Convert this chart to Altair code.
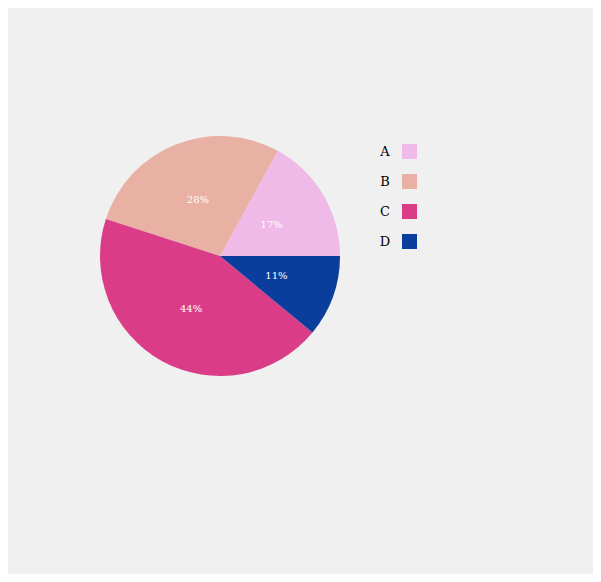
import altair as alt
import pandas as pd
import math

categories = ["A", "B", "C", "D"]
values = [17, 28, 44, 11]
labels = ["17%", "28%", "44%", "11%"]
order = [3, 2, 1, 0]
colors = ["#efb9e8", "#e9b0a4", "#da3c87", "#0b3e9c"]

df = pd.DataFrame({"cat": categories, "val": values, "label": labels, "ord": order})

color = alt.Color("cat:N", scale=alt.Scale(domain=categories, range=colors), legend=None)
theta = alt.Theta("val:Q", stack=True, scale=alt.Scale(range=[math.pi / 2, math.pi / 2 + 2 * math.pi]))
ordr = alt.Order("ord:Q")

cx, cy = 212, 248

arcs = alt.Chart(df).mark_arc(outerRadius=120).encode(
    theta=theta, color=color, order=ordr,
    x=alt.value(cx), y=alt.value(cy),
)
pie_text = alt.Chart(df).mark_text(radius=60, font="DejaVu Serif", fontSize=10, color="white").encode(
    theta=theta, order=ordr, text="label:N",
    x=alt.value(cx), y=alt.value(cy),
)

yscale = alt.Y("cat:N", scale=alt.Scale(type="point", domain=categories, range=[143.5, 233.5], padding=0), axis=None)
leg_text = alt.Chart(df).mark_text(font="DejaVu Serif", fontSize=13, color="black").encode(
    y=yscale, x=alt.value(377), text="cat:N",
)
leg_sq = alt.Chart(df).mark_point(shape="square", size=225, filled=True, opacity=1).encode(
    y=yscale, x=alt.value(401.5), color=color,
)

chart = alt.layer(arcs, pie_text, leg_text, leg_sq).properties(
    width=585, height=566, background="#f0f0f0", padding=0,
    autosize=alt.AutoSizeParams(type="none"),
).configure_view(stroke=None)

chart.save("out.html", embed_options={"renderer": "svg", "actions": False})
